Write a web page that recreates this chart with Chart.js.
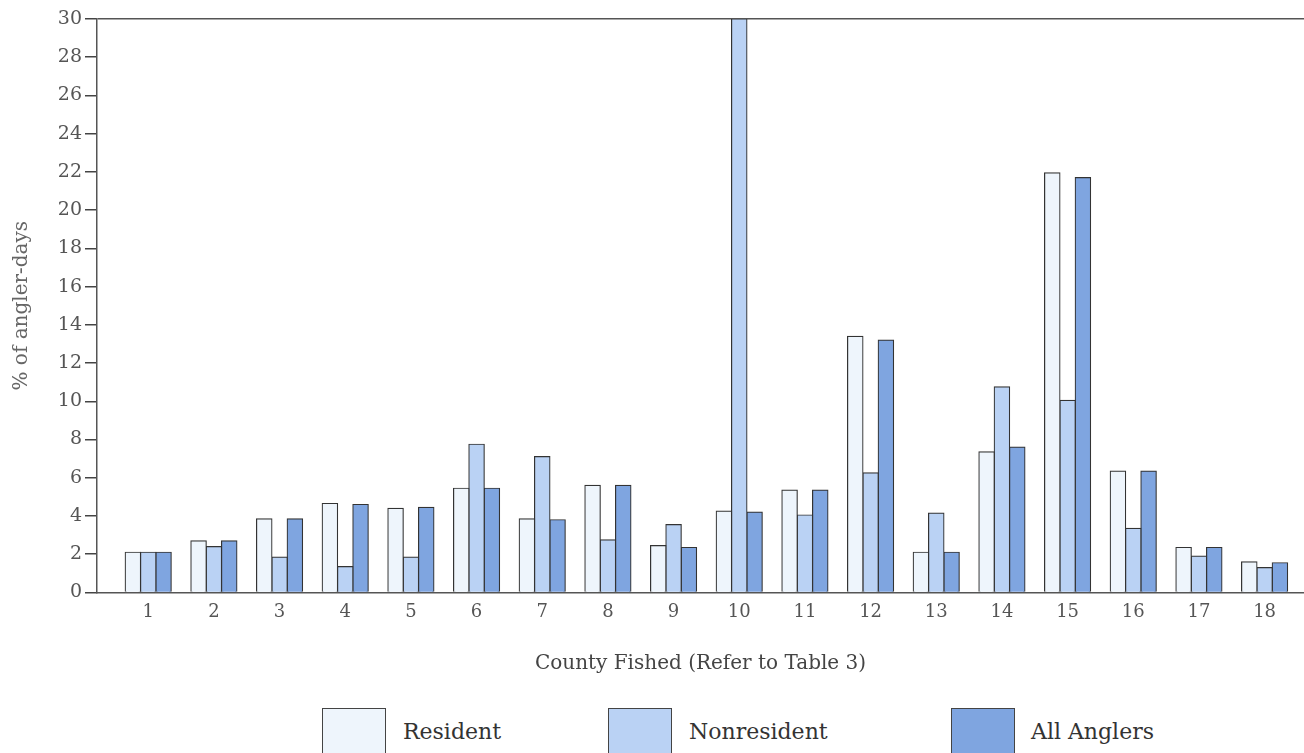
<!DOCTYPE html>
<html>
<head>
<meta charset="utf-8">
<script src="https://cdn.jsdelivr.net/npm/chart.js@4"></script>
<style>
  body { margin: 0; background: #fff; overflow: hidden; width: 1304px; height: 753px; position: relative; }
  #wrap { position: absolute; left: 0; top: 0; width: 1304px; height: 700px; }
  #legend { position: absolute; left: 0; top: 708px; width: 1304px; height: 60px; font-family: "DejaVu Serif", serif; }
  .box { position: absolute; top: 0; width: 62px; height: 50px; border: 1.5px solid #444; }
  .txt { position: absolute; top: 11px; font-size: 22px; color: #333; white-space: nowrap; }
</style>
</head>
<body>
<div id="wrap"><canvas id="countyChart"></canvas></div>
<div id="legend"></div>
<script>
// 데이터
const counties = ['1', '2', '3', '4', '5', '6', '7', '8', '9', '10', '11', '12', '13', '14', '15', '16', '17', '18'];
const resident = [2.1, 2.7, 3.85, 4.65, 4.4, 5.45, 3.85, 5.6, 2.45, 4.25, 5.35, 13.4, 2.1, 7.35, 21.95, 6.35, 2.35, 1.6];
const nonresident = [2.1, 2.4, 1.85, 1.35, 1.85, 7.75, 7.1, 2.75, 3.55, 30, 4.05, 6.25, 4.15, 10.75, 10.05, 3.35, 1.9, 1.3];
const allAnglers = [2.1, 2.7, 3.85, 4.6, 4.45, 5.45, 3.8, 5.6, 2.35, 4.2, 5.35, 13.2, 2.1, 7.6, 21.7, 6.35, 2.35, 1.55];
const yTicks = [0, 2, 4, 6, 8, 10, 12, 14, 16, 18, 20, 22, 24, 26, 28, 30];

const seriesNames = ['Resident', 'Nonresident', 'All Anglers'];
const colors = ['#eef5fc', '#bad2f4', '#7fa5e0'];
const seriesData = [resident, nonresident, allAnglers];

const serif = '"DejaVu Serif", "Liberation Serif", serif';

// x축은 linear 로 (첫 막대가 y축에서 조금 떨어져 있음)
const datasets = seriesData.map((vals, i) => ({
  label: seriesNames[i],
  data: vals.map((v, j) => ({ x: j + 1, y: v })),
  backgroundColor: colors[i],
  borderColor: '#333',
  borderWidth: 1.2,
  inflateAmount: 0.6,
  categoryPercentage: 0.7,
  barPercentage: 1.0,
}));

const ctx = document.getElementById('countyChart').getContext('2d');
const chart = new Chart(ctx, {
  type: 'bar',
  data: { datasets: datasets },
  options: {
    responsive: true,
    maintainAspectRatio: false,
    animation: false,
    events: [],
    layout: { padding: { top: 19, right: 0, bottom: 24, left: 0 } },
    plugins: { legend: { display: false }, tooltip: { enabled: false } },
    scales: {
      x: {
        type: 'linear',
        offset: false,
        min: 0.22,
        max: 18.6,
        grid: { display: false },
        border: { display: true, color: '#555', width: 1.5 },
        afterBuildTicks: s => { s.ticks = counties.map((c, i) => ({ value: i + 1 })); },
        ticks: {
          autoSkip: false,
          maxRotation: 0,
          padding: 1,
          color: '#555',
          font: { family: serif, size: 18 },
          callback: v => counties[v - 1],
        },
        title: {
          display: true,
          text: 'County Fished (Refer to Table 3)',
          color: '#444',
          font: { family: serif, size: 20 },
          padding: { top: 28, bottom: 0 },
        },
      },
      y: {
        min: 0,
        max: 30,
        afterFit: s => { s.width = 97; },
        afterBuildTicks: s => { s.ticks = yTicks.map(v => ({ value: v })); },
        grid: {
          color: c => (c.tick && c.tick.value === 30 ? '#555' : 'rgba(0,0,0,0)'),
          tickColor: '#444',
          tickLength: 12,
          lineWidth: 1.5,
        },
        border: { display: true, color: '#555', width: 1.5 },
        ticks: {
          padding: 3,
          color: '#555',
          font: { family: serif, size: 19 },
        },
        title: {
          display: true,
          text: '% of angler-days',
          color: '#666',
          font: { family: serif, size: 20 },
          padding: { top: 10, bottom: 0 },
        },
      },
    },
  },
});

// 범례 (박스 아래쪽이 잘려 있음)
const legendPos = [[322, 403], [608, 689], [951, 1031]];
const legendEl = document.getElementById('legend');
seriesNames.forEach((name, i) => {
  const box = document.createElement('div');
  box.className = 'box';
  box.style.left = legendPos[i][0] + 'px';
  box.style.background = colors[i];
  legendEl.appendChild(box);
  const txt = document.createElement('div');
  txt.className = 'txt';
  txt.style.left = legendPos[i][1] + 'px';
  txt.textContent = name;
  legendEl.appendChild(txt);
});
</script>
</body>
</html>
